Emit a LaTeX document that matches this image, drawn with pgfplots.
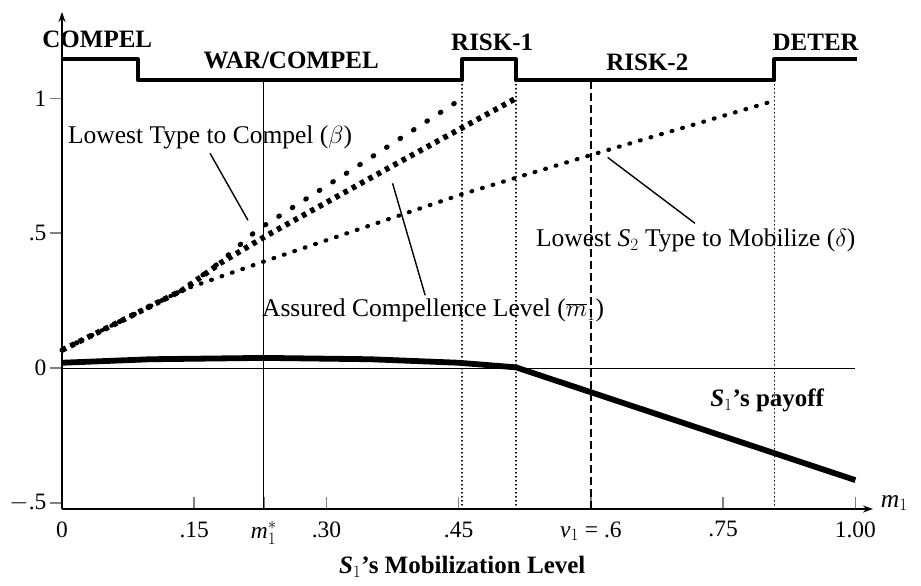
\documentclass[border=0pt]{standalone}
\usepackage{pgfplots}
\pgfplotsset{compat=1.18}
\usepackage{fontspec}
\setmainfont{Liberation Serif}
\usetikzlibrary{arrows.meta}
\newcommand\fs{\fontsize{25.5pt}{27pt}\selectfont}
\newcommand\ft{\fontsize{23.5pt}{25pt}\selectfont}
\newcommand\fb{\fontsize{25pt}{27pt}\selectfont\bfseries}
\begin{document}
\begin{tikzpicture}
\useasboundingbox (-62pt,-77pt) rectangle (859pt,509pt);
\begin{axis}[
  at={(0,0)}, anchor=south west,
  scale only axis, width=811pt, height=497pt,
  xmin=0, xmax=0.92, ymin=-0.522, ymax=1.32,
  axis lines=left,
  clip=false,
  axis line style={line width=1.6pt},
  x axis line style={-{Stealth[length=10pt,width=7pt]}},
  y axis line style={-{Stealth[length=10pt,width=7pt]}},
  xtick={0,0.15,0.229,0.3,0.45,0.6,0.75,0.9},
  xticklabels={0,.15,{\itshape m}$^*_1$,.30,.45,{\itshape v}$_1$ = .6,.75,1.00},
  ytick={-0.5,0,0.5,1},
  yticklabels={$-$.5,0,.5,1},
  tick align=outside,
  major tick length=12pt,
  xtick style={line width=1.6pt, yshift=12pt},
  ytick style={line width=1.6pt},
  ticklabel style={font=\ft},
  xticklabel style={yshift=3pt},
]
% vertical reference lines
\addplot[line width=1.2pt] coordinates {(0.229,-0.522) (0.229,1.067)};
\addplot[line width=1.5pt, line cap=round, dash pattern=on 0.5pt off 3.5pt] coordinates {(0.454,-0.522) (0.454,1.067)};
\addplot[line width=1.5pt, line cap=round, dash pattern=on 0.5pt off 3.5pt] coordinates {(0.515,-0.522) (0.515,1.067)};
\addplot[line width=1.9pt, dash pattern=on 8pt off 4pt] coordinates {(0.6,-0.522) (0.6,1.067)};
\addplot[line width=1.5pt, line cap=round, dash pattern=on 0.5pt off 3.5pt] coordinates {(0.808,-0.522) (0.808,1.067)};
% zero line
\addplot[line width=1.2pt] coordinates {(0,0) (0.9,0)};
% step line of regions
\addplot[line width=4pt, line join=round] coordinates {
 (0,1.144) (0.086,1.144) (0.086,1.067) (0.454,1.067) (0.454,1.144)
 (0.515,1.144) (0.515,1.067) (0.808,1.067) (0.808,1.144) (0.902,1.144)};
% delta: lowest S2 type to mobilize
\addplot[line width=4.2pt, line cap=round, dash pattern=on 0.8pt off 10.2pt] coordinates {
 (0,0.067) (0.07,0.18) (0.137,0.29) (0.185,0.345) (0.227,0.393)
 (0.454,0.645) (0.6,0.79) (0.807,0.99)};
% beta: lowest type to compel
\addplot[line width=5pt, line cap=round, dash pattern=on 0.8pt off 15.2pt] coordinates {
 (0,0.067) (0.07,0.18) (0.137,0.29) (0.18,0.395) (0.221,0.511)
 (0.335,0.748) (0.454,1.0)};
% assured compellence level
\addplot[line width=5.6pt, dash pattern=on 4.5pt off 5pt] coordinates {
 (0,0.067) (0.07,0.18) (0.137,0.29) (0.18,0.39) (0.233,0.493)
 (0.375,0.75) (0.515,1.0)};
% S1 payoff
\addplot[line width=5.8pt, line join=round] coordinates {
 (0,0.02) (0.1,0.033) (0.229,0.038) (0.35,0.033) (0.45,0.02) (0.515,0.003) (0.9,-0.415)};
% annotation connectors
\addplot[line width=1.4pt] coordinates {(0.168,0.796) (0.211,0.548)};
\addplot[line width=1.4pt] coordinates {(0.412,0.270) (0.375,0.685)};
\addplot[line width=1.4pt] coordinates {(0.718,0.537) (0.619,0.781)};
% region labels
\node[font=\fb] at (axis cs:0.04,1.219) {COMPEL};
\node[font=\fb] at (axis cs:0.26,1.141) {WAR/COMPEL};
\node[font=\fb] at (axis cs:0.488,1.207) {RISK-1};
\node[font=\fb] at (axis cs:0.664,1.133) {RISK-2};
\node[font=\fb] at (axis cs:0.855,1.207) {DETER};
% annotations
\node[font=\fs, inner sep=1pt] at (axis cs:0.168,0.856) {Lowest Type to Compel ($\beta$)};
\node[font=\fs, inner sep=1pt] at (axis cs:0.421,0.215) {Assured Compellence Level ($\overline{m}_1$)};
\node[font=\fs, inner sep=1pt] at (axis cs:0.719,0.474) {Lowest {\itshape S}$_2$ Type to Mobilize ($\delta$)};
\node[font=\fb, inner sep=1pt] at (axis cs:0.80,-0.119) {{\itshape S}$_1$'s payoff};
\node[font=\fs, anchor=west] at (axis cs:0.925,-0.5) {{\itshape m}$_1$};
\node[font=\fb] at (axis cs:0.454,-0.737) {{\itshape S}$_1$'s Mobilization Level};
\end{axis}
\end{tikzpicture}
\end{document}
